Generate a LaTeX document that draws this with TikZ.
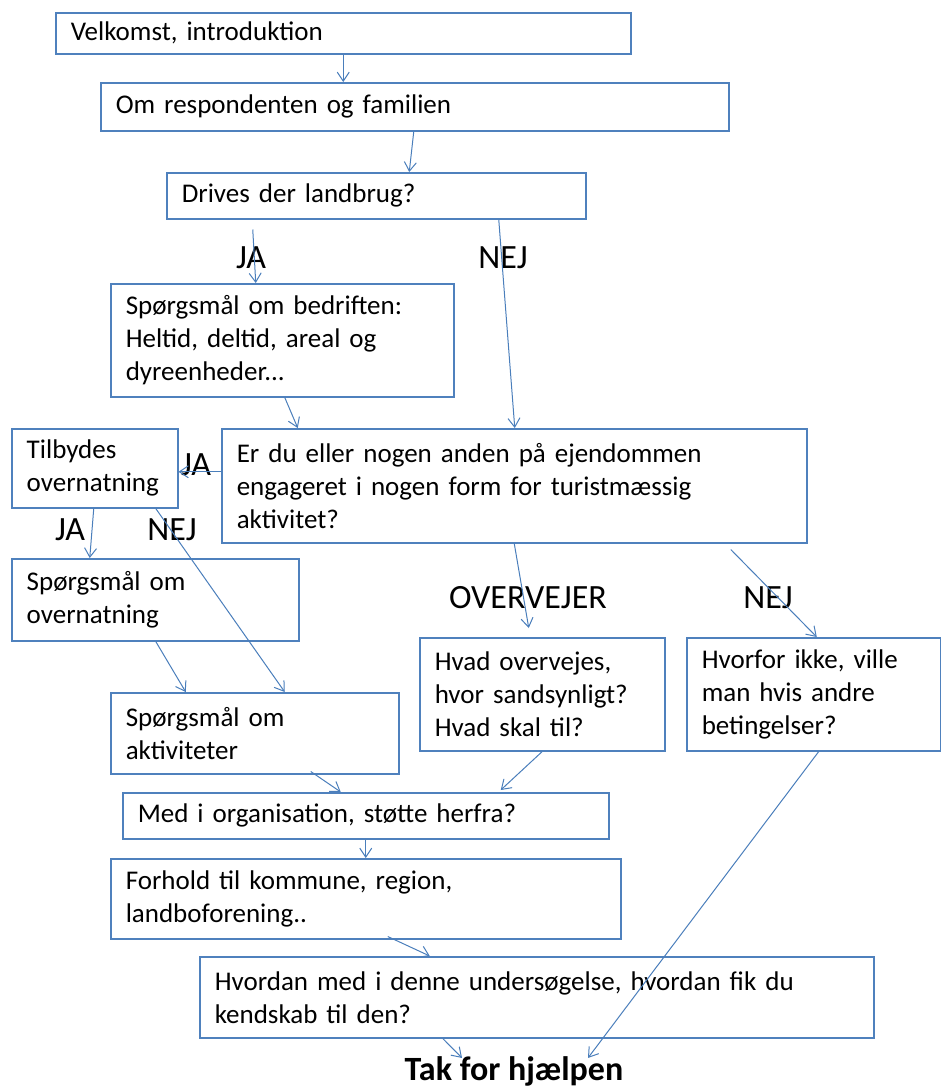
\documentclass[tikz,border=0pt]{standalone}
\usepackage{fontspec}
\setmainfont{Carlito}
\usepackage{tikz}
\usetikzlibrary{positioning,arrows.meta}
\definecolor{boxblue}{HTML}{4F81BD}
\definecolor{lineblue}{HTML}{4A7EBB}
\tikzset{
  box/.style={draw=boxblue, line width=1.5pt, fill=white, anchor=north west,
    inner xsep=15pt, inner ysep=0pt, align=left, font=\fontsize{27}{33}\selectfont},
  tag/.style={font=\fontsize{34}{40}\selectfont, inner sep=0pt},
  flow/.style={->, draw=lineblue, line width=1pt},
}
\begin{document}
\begin{tikzpicture}[x=1pt, y=-1pt, >={Straight Barb[length=9pt,width=12pt]}]
\useasboundingbox (0,0) rectangle (941,1088);
% nodes %

\node[box, text width=545pt, minimum height=41] (velk) at (55,12) {Velkomst, introduktion};
\node[box, text width=598pt, minimum height=48] (om) at (100,82) {Om respondenten og familien};
\node[box, text width=389pt, minimum height=46] (drives) at (166,172) {Drives der landbrug?};
\node[box, text width=313pt, minimum height=113] (bedr) at (110,283) {Spørgsmål om bedriften:\\Heltid, deltid, areal og\\dyreenheder...};
\node[box, text width=555pt, minimum height=114] (turist) at (221,428) {Er du eller nogen anden på ejendommen\\engageret i nogen form for turistmæssig\\aktivitet?};
\node[box, text width=136pt, minimum height=79] (tilb) at (11,428) {Tilbydes\\overnatning};
\node[box, text width=257pt, minimum height=82] (overn) at (11,558) {Spørgsmål om\\overnatning};
\node[box, text width=215pt, minimum height=113] (overv) at (419,637) {Hvad overvejes,\\hvor sandsynligt?\\Hvad skal til?};
\node[box, text width=224pt, minimum height=113] (hvorfor) at (686,637) {Hvorfor ikke, ville\\man hvis andre\\betingelser?};
\node[box, text width=258pt, minimum height=81] (aktiv) at (110,692) {Spørgsmål om\\aktiviteter};
\node[box, text width=456pt, minimum height=46] (org) at (122,792) {Med i organisation, støtte herfra?};
\node[box, text width=480pt, minimum height=80] (forh) at (110,858) {Forhold til kommune, region,\\landboforening..};
\node[box, text width=644pt, minimum height=81] (hvord) at (199,956) {Hvordan med i denne undersøgelse, hvordan fik du\\kendskab til den?};
\node[font=\bfseries\fontsize{34}{40}\selectfont, inner sep=0pt, anchor=base] (tak) at (514,1080) {Tak for hjælpen};

\node[tag] (ja1) at (251,258) {JA};
\node[tag] (nej1) at (503,258) {NEJ};
\node[tag] (ja2) at (196,465) {JA};
\node[tag] (ja3) at (70,530) {JA};
\node[tag] (nej2) at (172,530) {NEJ};
\node[tag] (overvejer) at (528,598) {OVERVEJER};
\node[tag] (nej3) at (768,598) {NEJ};

% edges %
\draw[flow] (velk.south) -- (velk.south |- om.north);
\draw[flow] ([xshift=-1]om.south) -- ([xshift=33]drives.north);
\draw[flow] ([xshift=-123.5,yshift=-10]drives.south) -- ([xshift=-26.5]bedr.north);
\draw[flow] ([xshift=122.5]drives.south) -- ([xshift=0.5]turist.north);
\draw[flow] ([xshift=2.5]bedr.south) -- ([xshift=-216.5]turist.north);
\draw[flow] ([yshift=14]turist.west) -- ([yshift=14]turist.west -| tilb.east);
\draw[flow] ([xshift=-1]tilb.south) -- ([xshift=-65.5]overn.north);
\draw[flow] ([xshift=61]tilb.south) -- ([xshift=30]aktiv.north);
\draw[flow] ([xshift=0.5]overn.south) -- ([xshift=-69]aktiv.north);
\draw[flow] (turist.south) -- ([xshift=-13.5,yshift=9]overv.north);
\draw[flow] ([xshift=216.5,yshift=-6]turist.south) -- ([xshift=3]hvorfor.north);
\draw[flow] (overv.south) -- ([xshift=135,yshift=2]org.north);
\draw[flow] ([xshift=56,yshift=3]aktiv.south) -- ([xshift=-25]org.north);
\draw[flow] (org.south) -- (forh.north);
\draw[flow] ([xshift=22,yshift=3]forh.south) -- ([xshift=-107]hvord.north);
\draw[flow] ([xshift=-94,yshift=0]hvord.south) -- ([xshift=-52,yshift=-2]tak.north);
\draw[flow] ([xshift=5]hvorfor.south) -- ([xshift=74,yshift=-2]tak.north);

\end{tikzpicture}
\end{document}
